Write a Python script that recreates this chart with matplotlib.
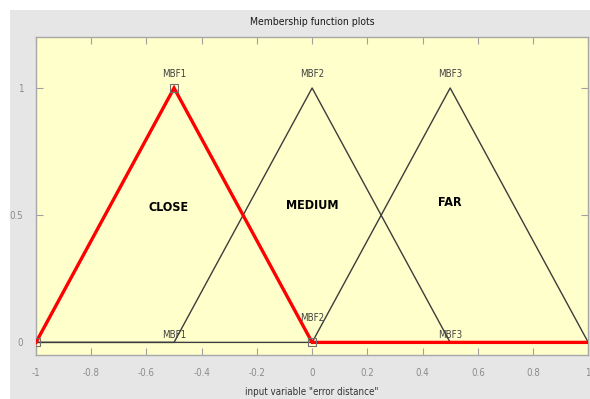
import matplotlib

matplotlib.use("Agg")

import matplotlib.pyplot as plt
from matplotlib import font_manager
from matplotlib.patches import Rectangle

# universe of discourse and triangular membership functions (a, b, c)
x_range = [-1.0, 1.0]
mf_names = ["MBF1", "MBF2", "MBF3"]
mf_params = [(-1.0, -0.5, 0.0), (-0.5, 0.0, 0.5), (0.0, 0.5, 1.0)]
mf_labels = ["CLOSE", "MEDIUM", "FAR"]
label_heights = [0.53, 0.54, 0.55]
selected = 0

xticks = [-1, -0.8, -0.6, -0.4, -0.2, 0, 0.2, 0.4, 0.6, 0.8, 1]
xtick_labels = ["-1", "-0.8", "-0.6", "-0.4", "-0.2", "0", "0.2", "0.4", "0.6", "0.8", "1"]
yticks = [0, 0.5, 1]
ytick_labels = ["0", "0.5", "1"]

# pick a condensed face if one is installed
condensed = [f.fname for f in font_manager.fontManager.ttflist
             if "condensed" in f.fname.lower() and "sans" in f.fname.lower()]


def font(size, bold=False):
    regular = [p for p in condensed if "bold" not in p.lower() and "oblique" not in p.lower()]
    heavy = [p for p in condensed if "bold" in p.lower() and "oblique" not in p.lower()]
    pool = heavy if bold else regular
    if pool:
        return font_manager.FontProperties(fname=pool[0], size=size)
    return font_manager.FontProperties(family="DejaVu Sans", size=size,
                                       weight="bold" if bold else "normal")


def trimf_path(a, b, c):
    xs = [x_range[0], a, b, c, x_range[1]]
    ys = [0, 0, 1, 0, 0]
    return xs, ys


fig = plt.figure(figsize=(5.9, 3.99), dpi=100, facecolor="white")
fig.patches.append(Rectangle((0.017, 0), 0.983, 0.975, transform=fig.transFigure,
                             facecolor="#e6e6e6", edgecolor="none", zorder=-10))
ax = fig.add_axes([0.061, 0.110, 0.936, 0.797])
ax.set_facecolor("#ffffcc")

order = [i for i in range(len(mf_params)) if i != selected] + [selected]
for i in order:
    xs, ys = trimf_path(*mf_params[i])
    if i == selected:
        ax.plot(xs, ys, color="#ff0000", lw=2.4, zorder=3, solid_joinstyle="miter")
        a, b, c = mf_params[i]
        ax.plot([a, b, c], [0, 1, 0], ls="none", marker="s", ms=6,
                mfc="none", mec="#707070", mew=0.8, zorder=4)
    else:
        ax.plot(xs, ys, color="#3c3c3c", lw=1.0, zorder=2)

for i, (name, (a, b, c)) in enumerate(zip(mf_names, mf_params)):
    ax.text(b, 1.035, name, ha="center", va="bottom", color="#404040",
            fontproperties=font(7))
    low_y = 0.075 if i == 1 else 0.01
    ax.text(b, low_y, name, ha="center", va="bottom", color="#404040",
            fontproperties=font(7))
    ax.text(b - (0.02 if i == 0 else 0), label_heights[i], mf_labels[i],
            ha="center", va="center", color="black", fontproperties=font(9, True))

ax.set_xlim(x_range)
ax.set_ylim(-0.05, 1.2)
ax.set_xticks(xticks)
ax.set_xticklabels(xtick_labels)
ax.set_yticks(yticks)
ax.set_yticklabels(ytick_labels)
ax.tick_params(direction="in", length=5, width=0.8, colors="#a0a0a0",
               labelcolor="#8c8c8c", labelsize=7, top=True, right=True, pad=9)
for label in ax.get_xticklabels() + ax.get_yticklabels():
    label.set_fontproperties(font(7))
for spine in ax.spines.values():
    spine.set_color("#a8a8a8")
    spine.set_linewidth(1.0)

ax.set_title("Membership function plots", color="#1a1a1a",
             fontproperties=font(7.5), pad=9)
ax.set_xlabel('input variable "error distance"', color="#333333",
              fontproperties=font(7), labelpad=7)

fig.savefig("out.png", dpi=100, facecolor=fig.get_facecolor())
